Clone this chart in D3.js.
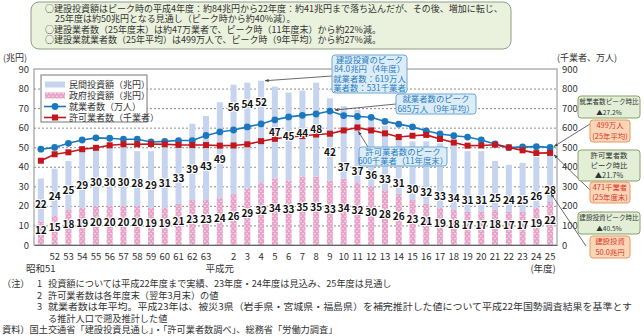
<!DOCTYPE html>
<html>
<head>
<meta charset="utf-8">
<script src="https://cdn.jsdelivr.net/npm/d3@7"></script>
<style>
  body { margin: 0; background: #fff; }
  text { font-family: "Noto Sans CJK JP", sans-serif; }
</style>
</head>
<body>
<script>
'use strict';

// fiscal years, 昭和51 .. 63, 平成元 .. 25
const years = ['51','52','53','54','55','56','57','58','59','60','61','62','63',
  '元','2','3','4','5','6','7','8','9','10','11','12','13','14','15','16','17','18','19','20','21','22','23','24','25'];
const tickLabels = ['','52','53','54','55','56','57','58','59','60','61','62','63',
  '','2','3','4','5','6','7','8','9','10','11','12','13','14','15','16','17','18','19','20','21','22','23','24','25'];

// 民間投資額 / 政府投資額 (兆円)
const privateInv = [22,24,25,29,30,30,30,28,29,31,33,39,43,
  49,56,54,52,47,45,44,48,42,37,37,36,33,31,30,32,33,34,31,31,25,24,25,26,28];
const govInv = [12,15,18,19,20,20,20,20,19,19,21,23,23,
  24,26,29,32,34,33,35,35,33,34,32,30,28,26,23,21,19,18,17,17,18,17,17,19,22];

// 就業者数 (万人) / 許可業者数 (千業者)
const workers = [490,499,520,537,548,546,541,541,527,530,534,534,560,
  578,588,604,619,640,655,663,670,685,662,657,653,632,618,604,584,568,559,552,537,517,498,502,503,499];
const firms = [431,464,474,490,497,510,515,515,516,515,512,511,511,
  508,509,515,531,543,552,557,565,569,586,601,586,571,552,559,563,542,524,508,509,513,499,484,470,471];

const leftTicks = [0,10,20,30,40,50,60,70,80,90];
const rightTicks = [0,100,200,300,400,500,600,700,800,900];

const headerLines = [
  '○建設投資額はピーク時の平成4年度：約84兆円から22年度：約41兆円まで落ち込んだが、その後、増加に転じ、',
  '25年度は約50兆円となる見通し（ピーク時から約40%減）。',
  '○建設業者数（25年度末）は約47万業者で、ピーク時（11年度末）から約22%減。',
  '○建設業就業者数（25年平均）は499万人で、ピーク時（9年平均）から約27%減。'
];
const noteHeads = ['（注）', '', '', '', '資料）国土交通省「建設投資見通し」・「許可業者数調べ」、総務省「労働力調査」'];
const noteNums = ['1', '2', '3', '', ''];
const noteTexts = [
  '投資額については平成22年度まで実績、23年度・24年度は見込み、25年度は見通し',
  '許可業者数は各年度末（翌年3月末）の値',
  '就業者数は年平均。平成23年は、被災3県（岩手県・宮城県・福島県）を補完推計した値について平成22年国勢調査結果を基準とす',
  'る推計人口で遡及推計した値',
  ''
];

const colPrivate = '#c6d4ef', colGov = '#e7a2c8';
const colWorkers = '#1b78be', colFirms = '#c3161d';
const colGrid = '#8c8c8c', colText = '#333';

const svg = d3.select('body').append('svg')
  .attr('width', 644).attr('height', 336);

const defs = svg.append('defs');
const pat = defs.append('pattern').attr('id', 'dots')
  .attr('patternUnits', 'userSpaceOnUse').attr('width', 4).attr('height', 5);
pat.append('rect').attr('width', 4).attr('height', 5).attr('fill', colGov);
pat.append('circle').attr('cx', 1).attr('cy', 1.2).attr('r', 0.65).attr('fill', '#fff');
pat.append('circle').attr('cx', 3).attr('cy', 3.7).attr('r', 0.65).attr('fill', '#fff');

defs.append('marker').attr('id', 'arrow')
  .attr('viewBox', '0 0 10 10').attr('refX', 9).attr('refY', 5)
  .attr('markerWidth', 5).attr('markerHeight', 5).attr('orient', 'auto')
  .append('path').attr('d', 'M0,1 L10,5 L0,9 z').attr('fill', '#444');

// multi-line text block as one <text> with tspans
function textBlock(g, tx, ty, lines, lh, opts) {
  const t = g.append('text').attr('x', tx).attr('y', ty)
    .style('font-size', opts.size + 'px').attr('fill', opts.color)
    .attr('text-anchor', opts.anchor || 'start');
  lines.forEach((line, i) => {
    const dx = opts.indent ? opts.indent[i] || 0 : 0;
    t.append('tspan').attr('x', tx + dx).attr('y', ty + i * lh).text(line);
  });
  return t;
}

// header box
const head = svg.append('g');
head.append('rect').attr('x', 31).attr('y', 2).attr('width', 480).attr('height', 47)
  .attr('rx', 8).attr('fill', '#eaf2dd').attr('stroke', '#8f9e84').attr('stroke-width', 1);
textBlock(head, 45, 11.5, headerLines, 10.6, { size: 9, color: colText, indent: [0, 10, 0, 0] });

// plot area
const X0 = 34, X1 = 557, Y0 = 245, Y1 = 69;
const x = d3.scaleBand().domain(d3.range(years.length)).range([X0, X1]);
const yL = d3.scaleLinear().domain([0, 90]).range([Y0, Y1]);
const yR = d3.scaleLinear().domain([0, 900]).range([Y0, Y1]);
const cx = i => x(i) + x.bandwidth() / 2;
const bw = 6;

// dashed gridlines
svg.append('g')
  .attr('transform', `translate(${X0},0)`)
  .call(d3.axisLeft(yL).tickValues(leftTicks.slice(1, -1)).tickSize(-(X1 - X0)).tickFormat(''))
  .call(g => g.select('.domain').remove())
  .call(g => g.selectAll('line').attr('stroke', colGrid).attr('stroke-dasharray', '2,2'));

// stacked bars: government part at the bottom, private part on top
const bars = svg.append('g');
bars.selectAll('.priv').data(privateInv).enter().append('rect')
  .attr('x', (d, i) => cx(i) - bw / 2)
  .attr('y', (d, i) => yL(d + govInv[i]))
  .attr('width', bw)
  .attr('height', (d, i) => yL(govInv[i]) - yL(d + govInv[i]))
  .attr('fill', colPrivate);
bars.selectAll('.gov').data(govInv).enter().append('rect')
  .attr('x', (d, i) => cx(i) - bw / 2)
  .attr('y', d => yL(d))
  .attr('width', bw)
  .attr('height', d => Y0 - yL(d))
  .attr('fill', 'url(#dots)');

// frame
svg.append('rect').attr('x', X0).attr('y', Y1).attr('width', X1 - X0).attr('height', Y0 - Y1)
  .attr('fill', 'none').attr('stroke', colGrid).attr('stroke-width', 1);

// axes
const styleTicks = g => g.selectAll('text').style('font-size', '9.5px').attr('fill', colText)
  .style('font-family', '"Noto Sans CJK JP", sans-serif');
svg.append('g').attr('transform', `translate(${X0},0)`)
  .call(d3.axisLeft(yL).tickValues(leftTicks).tickSize(0).tickPadding(5))
  .call(g => g.select('.domain').remove())
  .call(styleTicks);
svg.append('g').attr('transform', `translate(${X1},0)`)
  .call(d3.axisRight(yR).tickValues(rightTicks).tickSize(0).tickPadding(5))
  .call(g => g.select('.domain').remove())
  .call(styleTicks);
svg.append('g').attr('transform', `translate(0,${Y0})`)
  .call(d3.axisBottom(x).tickFormat(i => tickLabels[i]).tickSize(0).tickPadding(8))
  .call(g => g.select('.domain').attr('stroke', '#666'))
  .call(styleTicks);

// era labels under the axis
const eraLabels = [[0, '昭和51'], [13, '平成元'], [37, '(年度)']];
svg.selectAll('.era').data(eraLabels).enter().append('text')
  .attr('x', d => d[0] === 37 ? cx(d[0]) - 7 : cx(d[0]))
  .attr('y', 272).attr('text-anchor', 'middle')
  .style('font-size', '9.5px').attr('fill', colText)
  .text(d => d[1]);

svg.append('text').attr('x', 3).attr('y', 61).style('font-size', '9px').attr('fill', colText).text('(兆円)');
svg.append('text').attr('x', 557).attr('y', 61).style('font-size', '9px').attr('fill', colText).text('(千業者、万人)');

// lines with markers
const lineFn = d3.line().x((d, i) => cx(i)).y(d => yR(d));
svg.append('path').attr('d', lineFn(workers)).attr('fill', 'none')
  .attr('stroke', colWorkers).attr('stroke-width', 1.6);
svg.append('path').attr('d', lineFn(firms)).attr('fill', 'none')
  .attr('stroke', colFirms).attr('stroke-width', 1.6);
svg.selectAll('.wdot').data(workers).enter().append('circle')
  .attr('cx', (d, i) => cx(i)).attr('cy', d => yR(d)).attr('r', 3.4)
  .attr('fill', colWorkers);
svg.selectAll('.fsq').data(firms).enter().append('rect')
  .attr('x', (d, i) => cx(i) - 3).attr('y', d => yR(d) - 3)
  .attr('width', 6).attr('height', 6).attr('fill', colFirms);

// value labels: private label sits in the blue part, kept clear of the lines
function privLabelY(d, i) {
  const top = yL(d + govInv[i]), bottom = yL(govInv[i]);
  if (i >= 14 && i <= 16) return (top + yR(workers[i])) / 2;
  if (i >= 17 && i <= 20) return (top + bottom) / 2;
  if (i === 21) return bottom - 28;
  if (i >= 22) return bottom - 11;
  return bottom - 0.4 * (bottom - top);
}
const labelG = svg.append('g')
  .style('font-family', '"Noto Sans", sans-serif').style('font-weight', 'bold')
  .style('font-size', '10px');
labelG.selectAll('.pl').data(privateInv).enter().append('text')
  .attr('x', (d, i) => cx(i)).attr('y', privLabelY)
  .attr('dy', '0.35em').attr('text-anchor', 'middle')
  .attr('fill', '#111').attr('stroke', '#fff').attr('stroke-width', 2.2)
  .attr('paint-order', 'stroke').attr('stroke-linejoin', 'round')
  .text(d => d);
labelG.selectAll('.gl').data(govInv).enter().append('text')
  .attr('x', (d, i) => cx(i)).attr('y', d => yL(d / 2 + 1.5))
  .attr('dy', '0.35em').attr('text-anchor', 'middle')
  .attr('fill', '#111').attr('stroke', '#fff').attr('stroke-width', 2.2)
  .attr('paint-order', 'stroke').attr('stroke-linejoin', 'round')
  .text(d => d);

// legend
const legend = svg.append('g');
legend.append('rect').attr('x', 41).attr('y', 75).attr('width', 106).attr('height', 47)
  .attr('fill', '#fff').attr('stroke', '#777');
const legendNames = ['民間投資額（兆円）', '政府投資額（兆円）', '就業者数（万人）', '許可業者数（千業者）'];
const legendRow = k => 84.5 + k * 11;
legend.append('rect').attr('x', 45).attr('y', legendRow(0) - 3).attr('width', 20).attr('height', 6).attr('fill', colPrivate);
legend.append('rect').attr('x', 45).attr('y', legendRow(1) - 3).attr('width', 20).attr('height', 6).attr('fill', 'url(#dots)');
[[2, colWorkers], [3, colFirms]].forEach(([k, c]) => {
  legend.append('line').attr('x1', 44).attr('x2', 66).attr('y1', legendRow(k)).attr('y2', legendRow(k))
    .attr('stroke', c).attr('stroke-width', 1.6);
});
legend.append('circle').attr('cx', 55).attr('cy', legendRow(2)).attr('r', 3.4).attr('fill', colWorkers);
legend.append('rect').attr('x', 52).attr('y', legendRow(3) - 3).attr('width', 6).attr('height', 6).attr('fill', colFirms);
textBlock(legend, 69, legendRow(0) + 3.2, legendNames, 11, { size: 9, color: colText });

// callout boxes
function box(bx, by, w, h, lines, fill, stroke, color, fs) {
  const g = svg.append('g');
  g.append('rect').attr('x', bx).attr('y', by).attr('width', w).attr('height', h)
    .attr('rx', 3).attr('fill', fill).attr('stroke', stroke).attr('stroke-width', 1);
  const lh = h / lines.length;
  textBlock(g, bx + w / 2, by + lh / 2 + fs * 0.36, lines, lh, { size: fs, color: color, anchor: 'middle' });
}
function arrow(x1, y1, x2, y2) {
  svg.append('line').attr('x1', x1).attr('y1', y1).attr('x2', x2).attr('y2', y2)
    .attr('stroke', '#444').attr('stroke-width', 0.8).attr('marker-end', 'url(#arrow)');
}

const peakI = 16, peakW = 21, peakF = 23, last = years.length - 1;
const blueFill = '#dcedf8', blueStroke = '#6fa7d5', blueText = '#2b7cc0';
arrow(332, 76, cx(peakI) + 4, yL(privateInv[peakI] + govInv[peakI]));
box(332, 55, 75, 38, ['建設投資のピーク', '84.0兆円（4年度）', '就業者数：619万人', '業者数：531千業者'],
  blueFill, blueStroke, blueText, 8.4);
arrow(396, 104, cx(peakW) + 5, yR(workers[peakW]) - 1);
box(396, 94, 80, 20, ['就業者数のピーク', '685万人（9年平均）'], blueFill, blueStroke, blueText, 8.4);
arrow(368, 147, cx(peakF) + 1, yR(firms[peakF]) + 4);
box(359, 147, 88, 19, ['許可業者数のピーク', '600千業者（11年度末）'], blueFill, blueStroke, blueText, 8.4);

const greenFill = '#e2efd6', greenStroke = '#86a36a';
const orangeFill = '#fcd6b6', orangeStroke = '#e59a63', orangeText = '#d8352b';
arrow(590, 124, cx(last) + 4, yR(workers[last]) - 1);
arrow(590, 190, cx(last) + 4, yR(firms[last]) + 2);
arrow(586, 246, cx(last) + 1, yL(govInv[last]) - 8);
box(578, 96, 62, 22, ['就業者数ピーク時比', '▲27.2%'], greenFill, greenStroke, colText, 6.6);
box(590, 120, 40, 22, ['499万人', '(25年平均)'], orangeFill, orangeStroke, orangeText, 7.4);
box(578, 150, 62, 31, ['許可業者数', 'ピーク時比', '▲21.7%'], greenFill, greenStroke, colText, 7.4);
box(590, 182, 40, 21, ['471千業者', '(25年度末)'], orangeFill, orangeStroke, orangeText, 7.4);
box(578, 212, 62, 22, ['建設投資ピーク時比', '▲40.5%'], greenFill, greenStroke, colText, 6.6);
box(590, 236, 40, 22, ['建設投資', '50.0兆円'], orangeFill, orangeStroke, orangeText, 7.4);

// notes
const notes = svg.append('g');
const noteLh = 11.5, noteY = 287;
textBlock(notes, 2, noteY, noteHeads, noteLh, { size: 9.2, color: colText });
textBlock(notes, 37, noteY, noteNums, noteLh, { size: 9.2, color: colText });
const nt = textBlock(notes, 48, noteY, noteTexts, noteLh, { size: 9.2, color: colText });
nt.selectAll('tspan').filter((d, i) => i === 2)
  .attr('textLength', 584).attr('lengthAdjust', 'spacingAndGlyphs');
</script>
</body>
</html>
